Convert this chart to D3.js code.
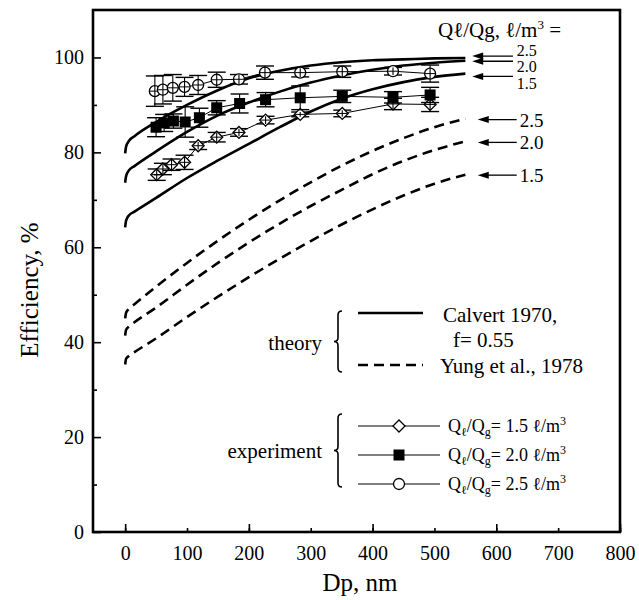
<!DOCTYPE html>
<html><head><meta charset="utf-8">
<script src="https://cdn.jsdelivr.net/npm/d3@7"></script>
<style>
body{margin:0;background:#fff}
text{font-family:"Liberation Serif","Times New Roman",serif;fill:#000}
</style></head>
<body><svg id="c" width="639" height="600"></svg>
<script>
// ---------- data ----------
const xTickValues = [0,100,200,300,400,500,600,700,800];
const xMajorTicks = [0,200,400,600,800];
const yTickValues = [0,20,40,60,80,100];
const yMinorTicks = [10,30,50,70,90];

// Calvert 1970 (solid) [Dp, efficiency]
const calvert25 = [[0,79.8],[1.5,81.2],[6,82.4],[15,83.4],[50,86.4],[100,90.0],[150,93.1],[200,95.6],[250,97.2],[300,98.3],[350,99.0],[400,99.4],[450,99.6],[500,99.8],[550,99.9]];
const calvert20 = [[0,73.6],[1.5,75.0],[6,76.2],[15,77.1],[50,80.2],[100,84.3],[150,87.8],[200,90.5],[250,92.8],[300,94.7],[350,96.2],[400,97.4],[450,98.3],[500,98.9],[550,99.3]];
const calvert15 = [[0,64.2],[1.5,65.6],[6,66.7],[15,67.5],[50,70.4],[100,74.6],[150,78.3],[200,81.8],[250,85.3],[300,88.6],[350,91.3],[400,93.3],[450,94.8],[500,95.9],[550,96.6]];
// Yung et al., 1978 (dashed)
const yung25 = [[0,45.0],[1.5,46.2],[6,47.0],[15,48.0],[50,51.7],[100,56.7],[150,61.4],[200,65.8],[250,69.9],[300,73.7],[350,77.2],[400,80.3],[450,83.0],[500,85.3],[550,87.1]];
const yung20 = [[0,41.4],[1.5,42.6],[6,43.3],[15,44.2],[50,47.3],[100,52.1],[150,56.7],[200,61.0],[250,65.0],[300,68.7],[350,72.1],[400,75.4],[450,78.2],[500,80.5],[550,82.3]];
const yung15 = [[0,35.3],[1.5,36.5],[6,37.1],[15,37.9],[50,40.8],[100,45.3],[150,49.6],[200,53.7],[250,57.6],[300,61.3],[350,64.8],[400,68.0],[450,70.9],[500,73.4],[550,75.3]];

// Experiments
const expDp15 = [51,61,75,96,118,148,184,227,283,351,433,493];
const expEff15 = [75.3,76.5,77.4,77.9,81.4,83.2,84.2,86.8,88.0,88.2,90.2,90.1];
const expErr15 = [1.2,1.2,1.2,1.5,0.8,1.0,0.8,0.8,0.5,0.7,1.2,1.5];
const expDp20 = [50,63,78,97,120,148,185,227,283,351,433,493];
const expEff20 = [85.3,86.2,86.6,86.4,87.3,89.4,90.3,91.1,91.5,91.8,91.6,92.1];
const expErr20 = [2.0,1.8,1.5,3.2,2.0,1.5,2.0,1.5,2.5,1.3,1.2,1.6];
const expDp25 = [48,61,77,96,118,148,184,226,283,351,433,493];
const expEff25 = [92.9,93.2,93.6,93.8,94.2,95.3,95.4,96.8,96.8,97.0,97.1,96.6];
const expErr25 = [3.2,3.0,2.8,2.0,2.0,1.6,1.0,1.4,0.9,1.2,0.8,1.8];

// curve-end annotations
const solidArrowVals = [100.3, 99.2, 96.0];
const dashArrowVals = [86.9, 82.1, 75.2];
const ratioLabels = ["2.5","2.0","1.5"];

// ---------- chart ----------
const svg = d3.select("#c");
const x = d3.scaleLinear().domain([-52,800]).range([93,620]);
const y = d3.scaleLinear().domain([0,110]).range([532,10]);

// axes
svg.append("g").attr("transform","translate(0,532)")
  .call(d3.axisBottom(x).tickValues(xTickValues).tickSize(-4).tickPadding(14).tickFormat(d3.format("d")));
svg.append("g").attr("transform","translate(0,532)")
  .call(d3.axisBottom(x).tickValues(xMajorTicks).tickSize(-8).tickFormat(""));
svg.append("g").attr("transform","translate(93,0)")
  .call(d3.axisLeft(y).tickValues(yTickValues).tickSize(-8).tickPadding(9).tickFormat(d3.format("d")));
svg.append("g").attr("transform","translate(93,0)")
  .call(d3.axisLeft(y).tickValues(yMinorTicks).tickSize(-4).tickFormat(""));
svg.selectAll(".domain").remove();
svg.selectAll(".tick line").attr("stroke","#000").attr("stroke-width",1.6);
svg.selectAll(".tick text").attr("font-size",20).attr("font-family","Liberation Serif");

// frame
svg.append("rect").attr("x",93).attr("y",10).attr("width",527).attr("height",522)
  .attr("fill","none").attr("stroke","#000").attr("stroke-width",2.6);

// axis titles
svg.append("text").attr("x",360).attr("y",591).attr("text-anchor","middle")
  .attr("font-size",25).text("Dp, nm");
svg.append("text").attr("transform","translate(38,290) rotate(-90)").attr("text-anchor","middle")
  .attr("font-size",25).text("Efficiency, %");

// theory curves
const line = d3.line().x(d=>x(d[0])).y(d=>y(d[1])).curve(d3.curveMonotoneX);
[calvert25,calvert20,calvert15].forEach(s=>{
  svg.append("path").attr("d",line(s)).attr("fill","none").attr("stroke","#000").attr("stroke-width",2.6);
});
[yung25,yung20,yung15].forEach(s=>{
  svg.append("path").attr("d",line(s)).attr("fill","none").attr("stroke","#000").attr("stroke-width",2.6)
    .attr("stroke-dasharray","10,6");
});

// experiments
const lin = d3.line().x(d=>x(d[0])).y(d=>y(d[1]));
function drawMarker(g,cx,cy,kind){
  if(kind==="diamond"){
    g.append("path").attr("d",`M${cx},${cy-6}L${cx+6},${cy}L${cx},${cy+6}L${cx-6},${cy}Z`)
      .attr("fill","#fff").attr("stroke","#000").attr("stroke-width",1.3);
  } else if(kind==="square"){
    g.append("rect").attr("x",cx-5.5).attr("y",cy-5.5).attr("width",11).attr("height",11).attr("fill","#000");
  } else {
    g.append("circle").attr("cx",cx).attr("cy",cy).attr("r",5.5).attr("fill","#fff").attr("stroke","#000").attr("stroke-width",1.3);
  }
}
function drawSeries(dp, eff, err, kind){
  const pts = dp.map((d,i)=>[d,eff[i],err[i]]);
  svg.append("path").attr("d",lin(pts)).attr("fill","none").attr("stroke","#000").attr("stroke-width",1);
  const g = svg.append("g");
  pts.forEach(p=>{
    const cx=x(p[0]), cy=y(p[1]), t=y(p[1]+p[2]), b=y(p[1]-p[2]);
    [t,b].forEach(yy=>g.append("line").attr("x1",cx-9).attr("x2",cx+9).attr("y1",yy).attr("y2",yy).attr("stroke","#000").attr("stroke-width",1.4));
    drawMarker(g, cx, cy, kind);
    g.append("line").attr("x1",cx).attr("x2",cx).attr("y1",t).attr("y2",b).attr("stroke","#000").attr("stroke-width",1.1);
    if(kind!=="square") g.append("line").attr("x1",cx-5).attr("x2",cx+5).attr("y1",cy).attr("y2",cy).attr("stroke","#000").attr("stroke-width",1);
  });
}
drawSeries(expDp15,expEff15,expErr15,"diamond");
drawSeries(expDp20,expEff20,expErr20,"square");
drawSeries(expDp25,expEff25,expErr25,"circle");

// arrows
function arrow(x1,x2,yy){
  svg.append("line").attr("x1",x1+8).attr("x2",x2).attr("y1",yy).attr("y2",yy).attr("stroke","#000").attr("stroke-width",1.3);
  svg.append("path").attr("d",`M${x1},${yy}L${x1+11},${yy-3.5}L${x1+11},${yy+3.5}Z`).attr("fill","#000");
}
solidArrowVals.forEach(v=>arrow(x(561),x(627),y(v)));
dashArrowVals.forEach(v=>arrow(x(570),x(633),y(v)));
const solidLabelY=[56,72,89];
ratioLabels.forEach((t,i)=>svg.append("text").attr("x",x(633)).attr("y",solidLabelY[i]).attr("font-size",16).text(t));
ratioLabels.forEach((t,i)=>svg.append("text").attr("x",x(638)).attr("y",y(dashArrowVals[i])+7).attr("font-size",19).text(t));

// header
const hdr = svg.append("text").attr("x",438).attr("y",37).attr("font-size",21);
hdr.append("tspan").text("Q\u2113/Qg, \u2113/m");
hdr.append("tspan").attr("font-size",13).attr("dy",-8).text("3");
hdr.append("tspan").attr("dy",8).text(" =");

// legend: theory
function brace(bx,y0,y1,w){
  const m=(y0+y1)/2, h=w/2;
  return `M${bx+w},${y0} Q${bx+h},${y0} ${bx+h},${y0+h} L${bx+h},${m-h} Q${bx+h},${m} ${bx},${m} Q${bx+h},${m} ${bx+h},${m+h} L${bx+h},${y1-h} Q${bx+h},${y1} ${bx+w},${y1}`;
}
svg.append("path").attr("d",brace(334,311,372,8)).attr("fill","none").attr("stroke","#000").attr("stroke-width",1.6);
svg.append("text").attr("x",322).attr("y",350).attr("text-anchor","end").attr("font-size",21).text("theory");
svg.append("line").attr("x1",358).attr("x2",423).attr("y1",313).attr("y2",313).attr("stroke","#000").attr("stroke-width",2.6);
svg.append("text").attr("x",443).attr("y",322).attr("font-size",21).text("Calvert 1970,");
svg.append("text").attr("x",453).attr("y",347).attr("font-size",21).text("f= 0.55");
svg.append("line").attr("x1",358).attr("x2",423).attr("y1",365).attr("y2",365).attr("stroke","#000").attr("stroke-width",2.6).attr("stroke-dasharray","10,6");
svg.append("text").attr("x",440).attr("y",373).attr("font-size",21).text("Yung et al., 1978");

// legend: experiment
svg.append("path").attr("d",brace(334,414,487,8)).attr("fill","none").attr("stroke","#000").attr("stroke-width",1.6);
svg.append("text").attr("x",322).attr("y",458).attr("text-anchor","end").attr("font-size",21).text("experiment");
const legKinds=["diamond","square","circle"], legVals=["1.5","2.0","2.5"], legY=[426,455,484];
legKinds.forEach((k,i)=>{
  svg.append("line").attr("x1",358).attr("x2",440).attr("y1",legY[i]).attr("y2",legY[i]).attr("stroke","#000").attr("stroke-width",1.2);
  drawMarker(svg,399,legY[i],k);
  const t=svg.append("text").attr("x",448).attr("y",legY[i]+6).attr("font-size",18);
  t.append("tspan").text("Q");
  t.append("tspan").attr("font-size",12).attr("dy",4).text("\u2113");
  t.append("tspan").attr("dy",-4).text("/Q");
  t.append("tspan").attr("font-size",12).attr("dy",4).text("g");
  t.append("tspan").attr("dy",-4).text("= "+legVals[i]+" \u2113/m");
  t.append("tspan").attr("font-size",12).attr("dy",-7).text("3");
});
</script></body></html>
